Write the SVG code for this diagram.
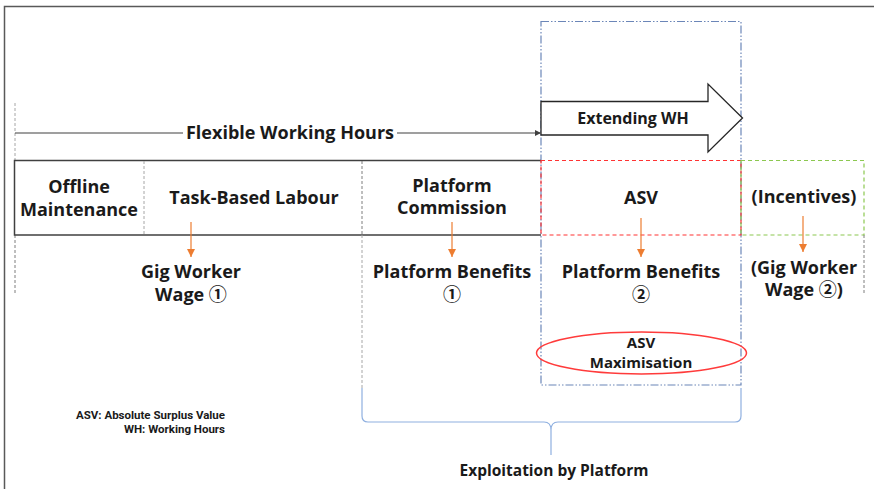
<svg xmlns="http://www.w3.org/2000/svg" width="874" height="489" viewBox="0 0 874 489">
<style>
text{font-family:"Open Sans","Noto Sans CJK JP",sans-serif;font-weight:bold;fill:#1a1a1a;text-anchor:middle}
.t{font-size:18px}
.s{font-size:15px}
.m{font-size:16px}
.leg{font-size:11.5px;text-anchor:end;font-family:"Roboto","Liberation Sans",sans-serif}
.solid{stroke:#404040;stroke-width:1.5;fill:none}
.gdash{stroke:#7f7f7f;stroke-width:1;stroke-dasharray:3 2;fill:none}
.ldash{stroke:#a6a6a6;stroke-width:1;stroke-dasharray:3 2;fill:none}
.red{stroke:#ff3333;stroke-width:1.2;stroke-dasharray:4 3;fill:none}
.green{stroke:#8cc850;stroke-width:1.2;stroke-dasharray:4 3;fill:none}
.blue{stroke:#6b86b8;stroke-width:1.2;stroke-dasharray:8 2 1.5 2 1.5 2;fill:none}
.or{stroke:#ed7d31;stroke-width:1.2;fill:none}
</style>
<defs>
<marker id="ka" markerWidth="6" markerHeight="6" refX="6" refY="3" orient="auto" markerUnits="userSpaceOnUse">
<path d="M0,0 L6,3 L0,6 Z" fill="#404040"/>
</marker>
<marker id="ob" markerWidth="8" markerHeight="8" refX="8" refY="4" orient="auto" markerUnits="userSpaceOnUse">
<path d="M0,0 L8,4 L0,8 Z" fill="#ed7d31"/>
</marker>
</defs>
<rect width="874" height="489" fill="#fff"/>
<path d="M4.5,489 V6.5 H874" stroke="#595959" stroke-width="1.5" fill="none"/>

<g id="scope-box">
<rect x="541" y="21.5" width="200" height="363.5" class="blue"/>
</g>

<g id="timeline">
<line x1="15" y1="103" x2="15" y2="160" class="ldash"/>
<line x1="15" y1="235" x2="15" y2="293" class="gdash"/>
<text class="t" x="290" y="139">Flexible Working Hours</text>
</g>

<g id="extending-wh">
<path d="M541,101.5 H708 V84 L742.5,118 L708,152 V135 H541 Z" fill="#fff" stroke="#262626" stroke-width="1.3"/>
<text class="m" x="633" y="124">Extending WH</text>
</g>

<g id="table">
<path d="M541,160.5 H14.5 V235 H541" class="solid"/>
<line x1="144" y1="161" x2="144" y2="235" class="ldash"/>
<line x1="362" y1="161" x2="362" y2="235" class="gdash"/>
<line x1="362" y1="235" x2="362" y2="388" class="ldash"/>
</g>

<g id="offline">
<text class="t" x="79" y="193">Offline</text>
<text class="t" x="79" y="216">Maintenance</text>
</g>
<g id="task-based">
<text class="t" x="254" y="204">Task-Based Labour</text>
</g>
<g id="commission">
<text class="t" x="452" y="192">Platform</text>
<text class="t" x="452" y="214">Commission</text>
</g>
<g id="asv">
<rect x="541" y="160.5" width="200" height="74.5" class="red"/>
<text class="t" x="641" y="204">ASV</text>
</g>
<g id="incentives">
<rect x="741" y="160.5" width="123" height="74.5" class="green"/>
<line x1="864" y1="235" x2="864" y2="293" class="gdash"/>
<text class="t" x="804" y="203">(Incentives)</text>
</g>

<g id="wage1">
<text class="t" x="191" y="278">Gig Worker</text>
<text class="t" x="191" y="301">Wage ①</text>
</g>
<g id="benefits1">
<text class="t" x="452" y="278">Platform Benefits</text>
<text class="t" x="452" y="301">①</text>
</g>
<g id="benefits2">
<text class="t" x="641" y="278">Platform Benefits</text>
<text class="t" x="641" y="301">②</text>
</g>
<g id="wage2">
<text class="t" x="804" y="274">(Gig Worker</text>
<text class="t" x="804" y="296">Wage ②)</text>
</g>

<g id="asv-max">
<ellipse cx="641.5" cy="353" rx="105" ry="21" fill="none" stroke="#ff3b3b" stroke-width="1.5"/>
<text class="s" x="641" y="348">ASV</text>
<text class="s" x="641" y="368">Maximisation</text>
</g>

<g id="exploitation">
<path d="M362,388 V416 Q362,422 368,422 H544 Q551,422 551,430 V455 M551,455 V430 Q551,422 558,422 H735 Q741,422 741,416 V388" stroke="#8fb0e0" stroke-width="1.2" fill="none"/>
<text class="s" x="554" y="476" style="font-size:15.5px">Exploitation by Platform</text>
</g>

<g id="legend">
<text class="leg" x="225" y="419">ASV: Absolute Surplus Value</text>
<text class="leg" x="225" y="433">WH: Working Hours</text>
</g>

<g id="connectors">
<line x1="15" y1="133" x2="183" y2="133" stroke="#404040" stroke-width="1.2"/>
<line x1="397" y1="133" x2="541" y2="133" stroke="#404040" stroke-width="1.2" marker-end="url(#ka)"/>
<line x1="191" y1="222" x2="191" y2="257" class="or" marker-end="url(#ob)"/>
<line x1="452" y1="222" x2="452" y2="257" class="or" marker-end="url(#ob)"/>
<line x1="641" y1="218" x2="641" y2="257" class="or" marker-end="url(#ob)"/>
<line x1="803" y1="216" x2="803" y2="252" class="or" marker-end="url(#ob)"/>
</g>
</svg>
